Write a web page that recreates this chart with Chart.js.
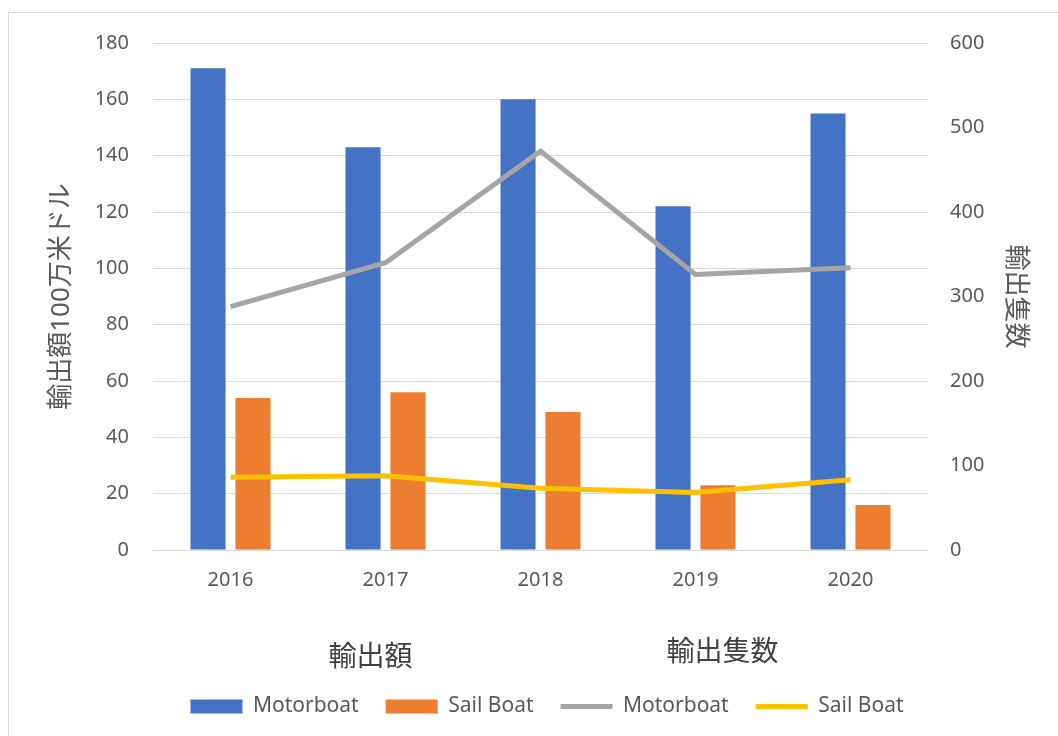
<!DOCTYPE html>
<html>
<head>
<meta charset="utf-8">
<script src="https://cdn.jsdelivr.net/npm/chart.js@4/dist/chart.umd.min.js"></script>
<style>
	html, body { margin: 0; padding: 0; background: #fff; }
	#wrap { position: relative; width: 1058px; height: 736px; }
	#frame { position: absolute; left: 8px; top: 12px; right: -2px; bottom: -2px; border: 1px solid #d9d9d9; }
	canvas { position: absolute; left: 0; top: 0; }
</style>
</head>
<body>
<div id="wrap">
	<div id="frame"></div>
	<canvas id="canvas" width="1058" height="736"></canvas>
</div>
<script>
var years = ['2016', '2017', '2018', '2019', '2020'];
// export value, million USD
var motorboatValue = [171, 143, 160, 122, 155];
var sailboatValue = [54, 56, 49, 23, 16];
// units exported
var motorboatCount = [288, 340, 472, 326, 334];
var sailboatCount = [86, 88, 73, 68, 83];

var valueTicks = [0, 20, 40, 60, 80, 100, 120, 140, 160, 180];
var countTicks = [0, 100, 200, 300, 400, 500, 600];

var groupTitles = ['輸出額', '輸出隻数'];

var FONT = '"Noto Sans", "Noto Sans CJK JP", sans-serif';
var GREY = '#595959';
var LEGEND_SHIFT = 18;

// legend sits a little right of the canvas centre
var legendShift = {
	id: 'legendShift',
	afterLayout: function(chart){
		chart.legend.left += LEGEND_SHIFT;
		chart.legend.right += LEGEND_SHIFT;
	}
};

// headings above the value pair and the count pair of legend items
var groupHeadings = {
	id: 'groupHeadings',
	afterDraw: function(chart){
		var boxes = chart.legend.legendHitBoxes;
		if (!boxes || boxes.length < 4) return;
		var ctx = chart.ctx;
		var mid = boxes[0].top + boxes[0].height / 2;
		ctx.save();
		ctx.font = '28px ' + FONT;
		ctx.fillStyle = '#404040';
		ctx.textAlign = 'center';
		ctx.textBaseline = 'middle';
		ctx.fillText(groupTitles[0], boxes[0].left + 180, mid - 48);
		ctx.fillText(groupTitles[1], boxes[2].left + 162, mid - 53);
		ctx.restore();
	}
};

var ctx = document.getElementById('canvas').getContext('2d');
window.myChart = new Chart(ctx, {
	type: 'bar',
	data: {
		labels: years,
		datasets: [
			{label: 'Motorboat', data: motorboatValue, backgroundColor: '#4472c4', yAxisID: 'y', order: 2,
				categoryPercentage: 0.58, barPercentage: 0.78, pointStyle: 'rect'},
			{label: 'Sail Boat', data: sailboatValue, backgroundColor: '#ed7d31', yAxisID: 'y', order: 2,
				categoryPercentage: 0.58, barPercentage: 0.78, pointStyle: 'rect'},
			{type: 'line', label: 'Motorboat', data: motorboatCount, borderColor: '#a5a5a5', backgroundColor: '#a5a5a5',
				borderWidth: 5, pointRadius: 0, yAxisID: 'y1', order: 1, pointStyle: 'line'},
			{type: 'line', label: 'Sail Boat', data: sailboatCount, borderColor: '#ffc000', backgroundColor: '#ffc000',
				borderWidth: 5, pointRadius: 0, yAxisID: 'y1', order: 1, pointStyle: 'line'}
		]
	},
	options: {
		responsive: false,
		animation: false,
		layout: {padding: {top: 43, bottom: 9, left: 0, right: 0}},
		plugins: {
			legend: {
				position: 'bottom',
				labels: {
					usePointStyle: true,
					pointStyleWidth: 52,
					boxHeight: 14,
					padding: 27,
					color: GREY,
					font: {family: FONT, size: 21},
					sort: function(a, b){ return a.datasetIndex - b.datasetIndex; }
				}
			},
			tooltip: {enabled: false}
		},
		scales: {
			x: {
				grid: {display: false},
				border: {display: false},
				ticks: {color: GREY, font: {family: FONT, size: 20}, padding: 10},
				afterFit: function(scale){ scale.height = 119; }
			},
			y: {
				position: 'left',
				min: 0,
				max: 180,
				afterBuildTicks: function(scale){ scale.ticks = valueTicks.map(function(v){ return {value: v}; }); },
				grid: {color: '#d9d9d9', lineWidth: 1, drawTicks: false},
				border: {display: false},
				ticks: {color: GREY, font: {family: FONT, size: 20}, padding: 24},
				title: {display: true, text: '輸出額100万米ドル', color: GREY, font: {family: FONT, size: 26}, padding: {top: 46, bottom: 0}},
				afterFit: function(scale){ scale.width = 153; }
			},
			y1: {
				position: 'right',
				min: 0,
				max: 600,
				afterBuildTicks: function(scale){ scale.ticks = countTicks.map(function(v){ return {value: v}; }); },
				grid: {drawOnChartArea: false, drawTicks: false},
				border: {display: false},
				ticks: {color: GREY, font: {family: FONT, size: 20}, padding: 22},
				title: {display: true, text: '輸出隻数', color: GREY, font: {family: FONT, size: 26}, padding: {top: 27, bottom: 0}},
				afterFit: function(scale){ scale.width = 130; }
			}
		}
	},
	plugins: [legendShift, groupHeadings]
});
</script>
</body>
</html>
